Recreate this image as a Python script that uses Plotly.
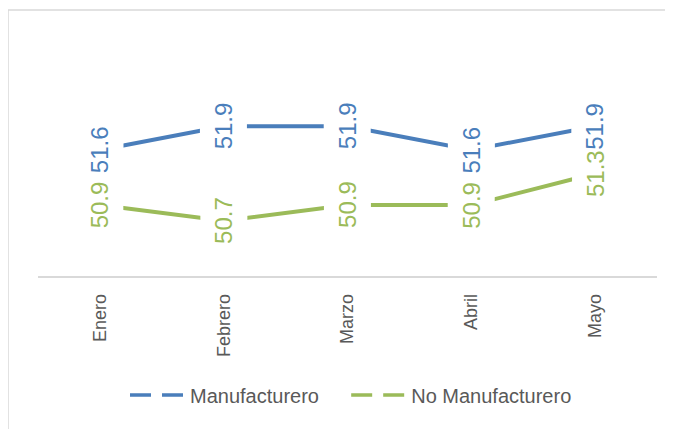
import plotly.graph_objects as go

# ---- data ----
meses = ["Enero", "Febrero", "Marzo", "Abril", "Mayo"]
manufacturero = [51.6, 51.9, 51.9, 51.6, 51.9]
no_manufacturero = [50.9, 50.7, 50.9, 50.9, 51.3]
serie_nombres = ["Manufacturero", "No Manufacturero"]

BLUE = "#4A7EBB"
GREEN = "#9BBB59"
GREY_TXT = "#595959"
GREY_LINE = "#D9D9D9"
FONT = "Liberation Sans, Arial, sans-serif"

# page body has an 8px margin, so the figure is drawn 8px smaller and offset
OFF = 8
W, H = 673 - OFF, 429 - OFF
ML, MR, MT, MB = 38 - OFF, 16, 79 - OFF, 153
PW, PH = W - ML - MR, H - MT - MB

fig = go.Figure()

series = [(manufacturero, BLUE, serie_nombres[0]), (no_manufacturero, GREEN, serie_nombres[1])]

for vals, col, name in series:
    fig.add_trace(go.Scatter(x=meses, y=vals, mode="lines", line=dict(color=col, width=4),
                             showlegend=False, hoverinfo="skip"))

# legend-only traces (dashed symbol like the reference); trailing spaces widen item spacing
for i, (vals, col, name) in enumerate(series):
    pad = "\u00a0" * 4 if i == 0 else ""
    fig.add_trace(go.Scatter(x=[None], y=[None], mode="lines", name=name + pad,
                             line=dict(color=col, width=3.5, dash="21px,11px")))

# data labels (vertical, white box creates the gap in the line)
for vals, col, name in series:
    for m, v in zip(meses, vals):
        fig.add_annotation(x=m, y=v, xref="x", yref="y", text=f"{v:.1f}", showarrow=False,
                           textangle=-90, font=dict(family=FONT, size=24, color=col),
                           bgcolor="white", width=46, height=46, borderpad=0)

# outer chart-area border (partially cropped in the reference)
fig.add_shape(type="rect", xref="paper", yref="paper",
              x0=(8 - OFF - ML) / PW, x1=1.3, y0=-1.2, y1=(MT + PH - (10 - OFF)) / PH,
              line=dict(color=GREY_LINE, width=1.5), fillcolor="rgba(0,0,0,0)", layer="below")

fig.update_layout(
    width=W, height=H,
    margin=dict(l=ML, r=MR, t=MT, b=MB, pad=0),
    paper_bgcolor="white", plot_bgcolor="white",
    font=dict(family=FONT, color=GREY_TXT),
    showlegend=True,
    legend=dict(orientation="h", x=(125 - OFF - ML) / PW, xanchor="left",
                y=(MT + PH - (395 - OFF)) / PH, yanchor="middle",
                font=dict(size=20, color=GREY_TXT), itemwidth=55,
                bgcolor="rgba(0,0,0,0)"),
    xaxis=dict(type="category", range=[-0.5, len(meses) - 0.5], showline=True,
               linecolor=GREY_LINE, linewidth=1.5,
               showgrid=False, zeroline=False, ticks="", tickangle=-90,
               tickfont=dict(size=18, color=GREY_TXT, family=FONT), ticklabelstandoff=9,
               fixedrange=True),
    yaxis=dict(range=[50, 52.5], showgrid=False, zeroline=False, showline=False,
               showticklabels=False, ticks="", fixedrange=True),
)

fig.write_html("out.html")
